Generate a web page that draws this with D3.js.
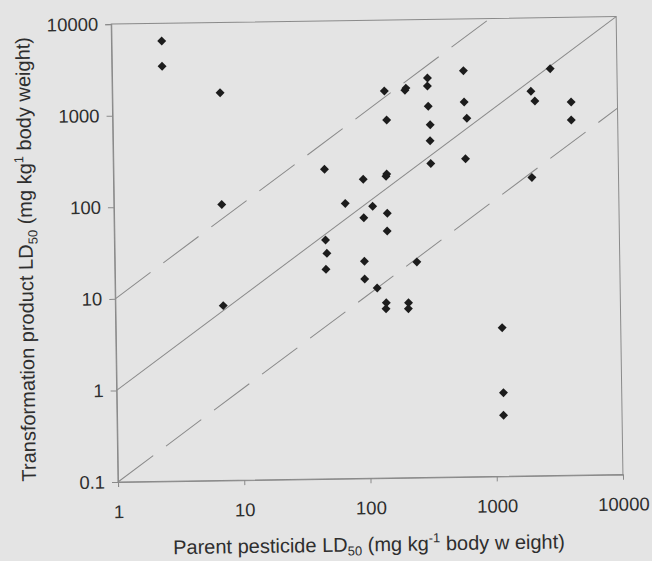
<!DOCTYPE html>
<html>
<head>
<meta charset="utf-8">
<script src="https://cdn.jsdelivr.net/npm/d3@7"></script>
<style>
  html, body { margin: 0; padding: 0; background: #e4e4e4; }
  svg { display: block; }
  text { font-family: "Liberation Sans", Arial, sans-serif; fill: #2e2e2e; }
</style>
</head>
<body>
<svg id="chart" width="652" height="561"></svg>
<script>
// Parent pesticide LD50 vs transformation product LD50 (mg/kg body weight)
const parentLD50 = [2.5, 2.5, 7.15, 7.15, 7.15, 47, 47, 48, 47, 68, 95, 95, 95, 95, 112, 119,
  144, 146, 146, 145, 140, 139, 143, 148, 208, 212, 210, 209, 247,
  315, 314, 317, 327, 325, 327, 608, 611, 639, 617, 1150, 1157, 1152,
  2070, 2220, 2060, 2960, 4300, 4290];
const productLD50 = [6400, 3400, 1710, 103, 8.1, 240, 40.6, 29, 19.4, 101, 184, 70, 23.4, 15, 93, 11.9,
  197, 208, 77.6, 49.7, 8.2, 7.05, 1680, 809, 1700, 1790, 8.13, 7.0, 22.6,
  2290, 1875, 1125, 706, 472, 267, 2716, 1236, 820, 297, 4.19, 0.818, 0.463,
  1579, 1236, 181, 2767, 1189, 756];

// Product/parent ratios drawn as guide lines (1:1 and a factor of ten either side)
const refRatios = [0.1, 1, 10];

const xTicks = [1, 10, 100, 1000, 10000];
const yTicks = [0.1, 1, 10, 100, 1000, 10000];
const xDomain = [1, 10000];
const yDomain = [0.1, 10000];

const margin = { left: 118, top: 24, width: 505, height: 458 };

const svg = d3.select("#chart");
svg.append("rect").attr("width", 652).attr("height", 561).attr("fill", "#e4e4e4");

const root = svg.append("g")
  .attr("transform", `rotate(-0.85, ${margin.left}, ${margin.top + margin.height})`);

const x = d3.scaleLog().domain(xDomain).range([margin.left, margin.left + margin.width]);
const y = d3.scaleLog().domain(yDomain).range([margin.top + margin.height, margin.top]);

const fmt = d => String(d);
const axisColor = "#8a8a8a";

// Frame
root.append("rect")
  .attr("x", margin.left).attr("y", margin.top)
  .attr("width", margin.width).attr("height", margin.height)
  .attr("fill", "none").attr("stroke", axisColor).attr("stroke-width", 1);

// Axes
const xAxis = root.append("g")
  .attr("transform", `translate(0,${margin.top + margin.height})`)
  .call(d3.axisBottom(x).tickValues(xTicks).tickFormat(fmt).tickSizeOuter(0).tickSize(5).tickPadding(18));
const yAxis = root.append("g")
  .attr("transform", `translate(${margin.left},0)`)
  .call(d3.axisLeft(y).tickValues(yTicks).tickFormat(fmt).tickSizeOuter(0).tickSize(6).tickPadding(7));

[xAxis, yAxis].forEach(a => {
  a.select(".domain").attr("stroke", axisColor);
  a.selectAll(".tick line").attr("stroke", axisColor);
  a.selectAll(".tick text")
    .attr("fill", "#2e2e2e")
    .style("font-family", "'Liberation Sans', Arial, sans-serif")
    .style("font-size", "18.5px");
});

// Guide lines, clipped to the plot domain
refRatios.forEach(r => {
  const x0 = Math.max(xDomain[0], yDomain[0] / r);
  const x1 = Math.min(xDomain[1], yDomain[1] / r);
  root.append("line")
    .attr("x1", x(x0)).attr("y1", y(x0 * r))
    .attr("x2", x(x1)).attr("y2", y(x1 * r))
    .attr("stroke", axisColor)
    .attr("stroke-width", 1)
    .attr("stroke-dasharray", r === 1 ? null : "44 16");
});

// Points as diamonds
const pts = parentLD50.map((p, i) => ({ p, t: productLD50[i] }));
root.append("g").selectAll("path")
  .data(pts)
  .join("path")
  .attr("d", d3.symbol(d3.symbolSquare, 40))
  .attr("transform", d => `translate(${x(d.p)},${y(d.t)}) rotate(45)`)
  .attr("fill", "#1c1c1c");

// Axis titles
const xt = root.append("text")
  .attr("x", 368).attr("y", 555)
  .attr("text-anchor", "middle")
  .style("font-size", "20px");
xt.append("tspan").text("Parent pesticide LD");
xt.append("tspan").attr("dy", 4).style("font-size", "13px").text("50");
xt.append("tspan").attr("dy", -4).text(" (mg kg");
xt.append("tspan").attr("dy", -8).style("font-size", "13px").text("-1");
xt.append("tspan").attr("dy", 8).text(" body w eight)");

const yt = root.append("text")
  .attr("transform", "translate(36,258) rotate(-90)")
  .attr("text-anchor", "middle")
  .style("font-size", "20px");
yt.append("tspan").text("Transformation product LD");
yt.append("tspan").attr("dy", 5).style("font-size", "13px").text("50");
yt.append("tspan").attr("dy", -5).text(" (mg kg");
yt.append("tspan").attr("dy", -8).style("font-size", "13px").text("1");
yt.append("tspan").attr("dy", 8).text(" body weight)");
</script>
</body>
</html>
